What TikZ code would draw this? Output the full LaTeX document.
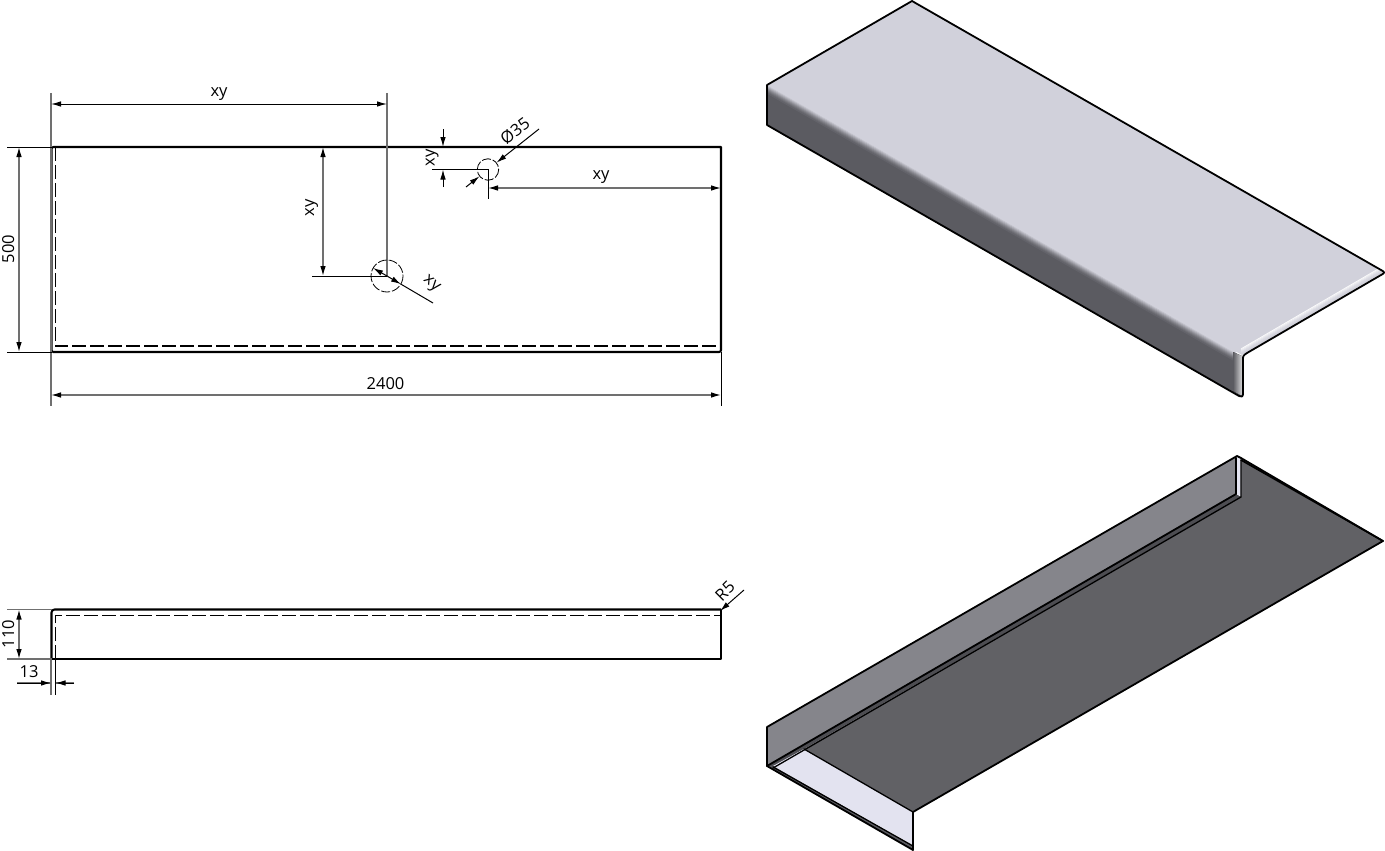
\documentclass[tikz,border=0pt]{standalone}
\usepackage{fontspec}
\setmainfont{Open Sans}
\usetikzlibrary{arrows.meta}
\definecolor{topc}{HTML}{D1D1DB}
\definecolor{darkc}{HTML}{5B5B61}
\definecolor{wallc}{HTML}{85858B}
\definecolor{panc}{HTML}{616165}
\definecolor{lightc}{HTML}{E3E3F0}
\definecolor{extc}{HTML}{707070}
\tikzset{
  x=1pt,y=-1pt,
  tip/.tip={Latex[length=10pt,width=5.5pt,black]},
  outl/.style={black,line width=2.1pt,line join=round},
  hid/.style={black,line width=1.7pt,dash pattern=on 14pt off 4pt},
  cir/.style={black,line width=.8pt,dash pattern=on 9pt off 2pt},
  extg/.style={extc,line width=1.1pt},
  extk/.style={black,line width=1pt},
  dimb/.style={tip-tip,extc,line width=1.1pt},
  dimk/.style={tip-tip,black,line width=1pt},
  lead/.style={-tip,black,line width=1pt},
  lab/.style={inner sep=0pt,font=\fontsize{16.5}{17}\selectfont,text=black},
  edge3d/.style={black,line width=1.8pt,line join=round,line cap=round},
}
\begin{document}
\begin{tikzpicture}
\useasboundingbox (0,0) rectangle (1385,851);
% ---------- named points of the plan view
\coordinate (pTL) at (51.5,147); \coordinate (pTR) at (721,147);
\coordinate (pBL) at (51.5,352); \coordinate (pBR) at (721,352);
\coordinate (e1a) at (51,93);  \coordinate (e1b) at (51,406);
\coordinate (e2a) at (387,93); \coordinate (e2b) at (387,276);
\coordinate (e3a) at (7,147);  \coordinate (e4a) at (7,352);
\coordinate (e5a) at (721,352);\coordinate (e5b) at (721,406);
\coordinate (d1a) at (51,104); \coordinate (d1b) at (387,104);
\coordinate (d2a) at (19,147); \coordinate (d2b) at (19,352);
\coordinate (d3a) at (51,395); \coordinate (d3b) at (721,395);
\coordinate (d4a) at (323,147);\coordinate (d4b) at (323,276);
\coordinate (e6a) at (312,276);
\coordinate (h1) at (387,276);
\coordinate (h1a) at (373,268);\coordinate (h1b) at (401,284.2);\coordinate (h1c) at (433,303);
\coordinate (h2) at (488,169.5);
\coordinate (e7a) at (432,169.5);\coordinate (e7b) at (488,199);
\coordinate (d5a) at (443,129);\coordinate (d5b) at (443,147);
\coordinate (d5c) at (443,187);\coordinate (d5d) at (443,169.5);
\coordinate (d6a) at (488,188);\coordinate (d6b) at (721,188);
\coordinate (h2a) at (539,129);\coordinate (h2b) at (496.5,162.7);
\coordinate (h2c) at (466,187);\coordinate (h2d) at (479.5,176.3);
% ---------- plan view
\draw[outl,line cap=round,rounded corners=2pt] (pTR) -- (pTL) -- (pBL) -- (pBR) -- (pTR);
\draw[hid] (55.5,147) -- (55.5,346.3) -- (719,346.3);
\draw[extg] (e1a) -- (e1b);
\draw[extg] (e2a) -- (e2b);
\draw[extk] (e3a) -- (pTL);
\draw[extk] (e4a) -- (pBL);
\draw[extk] (e5a) -- (e5b);
\draw[extk] (e6a) -- (h1);
\draw[extk] (e7a) -- (h2) -- (e7b);
\draw[dimk] (d1a) -- (d1b);
\draw[dimb] (d2a) -- (d2b);
\draw[dimb] (d3a) -- (d3b);
\draw[dimb] (d4a) -- (d4b);
\draw[dimb] (d6a) -- (d6b);
\draw[lead] (h1) -- (h1a);
\draw[lead] (h1) -- (h1b);
\draw[black,line width=1pt] (h1b) -- (h1c);
\draw[lead] (d5a) -- (d5b);
\draw[lead] (d5c) -- (d5d);
\draw[lead] (h2a) -- (h2b);
\draw[lead] (h2c) -- (h2d);
\draw[cir] (h1) circle (16);
\draw[cir] (h2) circle (10.7);
\node[lab,anchor=base] (t1) at (219,96.5) {xy};
\node[lab,anchor=base,rotate=90] (t2) at (14,249) {500};
\node[lab,anchor=base] (t3) at (385.5,389) {2400};
\node[lab,anchor=base,rotate=90] (t4) at (314,208) {xy};
\node[lab,rotate=-40] (t5) at (431,284.5) {xy};
\node[lab,anchor=base,rotate=90] (t6) at (434.5,158) {xy};
\node[lab,anchor=base] (t7) at (601,179.5) {xy};
\node[lab,rotate=37] (t8) at (515,131) {Ø35};
% ---------- side view
\coordinate (sTL) at (51.5,609.5); \coordinate (sTR) at (721,609.5);
\coordinate (sBL) at (51.5,659);   \coordinate (sBR) at (721,659);
\coordinate (s1a) at (7,609.5);  \coordinate (s2a) at (7,659);
\coordinate (s3a) at (19,609.5); \coordinate (s3b) at (19,659);
\coordinate (s4a) at (51,659);   \coordinate (s4b) at (51,695);
\coordinate (s5a) at (55.5,659); \coordinate (s5b) at (55.5,695);
\coordinate (s6a) at (17,683);   \coordinate (s6b) at (51,683);
\coordinate (s6c) at (74,683);   \coordinate (s6d) at (55.5,683);
\coordinate (s7a) at (744,590);  \coordinate (s7b) at (720,611);
\draw[outl,rounded corners=3pt] (sBL) -- (sTL) -- (sTR);
\draw[outl] (sBL) -- (sBR) -- (sTR);
\draw[hid] (55.5,659) -- (55.5,615.5) -- (721,615.5);
\draw[extg] (s1a) -- (sTL);
\draw[extg] (s2a) -- (sBL);
\draw[extg] (s4a) -- (s4b);
\draw[extk] (s5a) -- (s5b);
\draw[dimb] (s3a) -- (s3b);
\draw[extg] (s6a) -- (s6b);
\draw[extg] (s6c) -- (s6d);
\draw[lead] (s6a) -- (s6b);
\draw[lead] (s6c) -- (s6d);
\draw[lead] (s7a) -- (s7b);
\node[lab,anchor=base,rotate=90] (t9) at (14,634) {110};
\node[lab,anchor=base] (t10) at (29,677) {13};
\node[lab,rotate=45] (t11) at (725,591) {R5};
% ---------- upper 3D view
\fill[topc] (767,85) -- (912,1) -- (1384,272) -- (1242,355) -- cycle;
\fill[darkc] (767,85) -- (1240,356) -- (1242,397) -- (767,125) -- cycle;
\foreach \k/\m in {-9/100,-8/100,-7/100,-6/88,-5/74,-4/60,-3/46,-2/34,-1/23,0/14,1/7} {
  \draw[topc!\m!darkc,line width=1.3pt] (768,85.6+\k+7) -- (1236,353.5+\k+7);
}
\foreach \k/\m in {0/90,1/70,2/50,3/30,4/15} {
  \draw[white!\m!topc,line width=1pt] (1241,351+\k-2) -- (1380,270+\k-2);
}
\fill[left color=darkc,right color=white!75!darkc] (1233,352) -- (1242,356) -- (1242,396) -- (1233,391) -- cycle;
\draw[edge3d] (767,125) -- (767,85) -- (912,1) -- (1381,270) .. controls (1385,272) and (1385,273) .. (1381,275) -- (1247,353) .. controls (1243,355.5) and (1243,356) .. (1243,360) -- (1243,394) .. controls (1243,397) and (1241,397) .. (1239,396) -- cycle;
% ---------- lower 3D view
\fill[wallc] (767,727) -- (1237,456) -- (1237,494) -- (767,766) -- cycle;
\fill[panc] (1238,456) -- (1383,541) -- (913,812) -- (804,749) -- (1241,497) -- cycle;
\fill[darkc!85!black] (767,766) -- (1236,494) -- (1241,497) -- (804,749) -- (772,768) -- cycle;
\fill[lightc] (804,749) -- (913,812) -- (913,845) -- (773,766) -- cycle;
\fill[lightc] (1236,458) -- (1241,458) -- (1241,496) -- (1236,494) -- cycle;
\fill[darkc] (767,766) -- (773,766) -- (913,846) -- (913,850) -- cycle;
\draw[edge3d] (767,766) -- (767,727) -- (1237,456) -- (1241,458) -- (1383,541) -- (913,812) -- (913,850) -- (767,766) -- cycle;
\draw[edge3d] (767,766) -- (1236,494) -- (1236,458);
\draw[edge3d,line width=1.3pt] (773,768) -- (1241,497) -- (1241,460);
\draw[edge3d,line width=1.3pt] (804,749) -- (913,812);
\draw[edge3d,line width=1.3pt] (773,767) -- (913,846);
\draw[edge3d,line width=1.6pt] (1241,460) -- (1383,541);
\end{tikzpicture}
\end{document}
